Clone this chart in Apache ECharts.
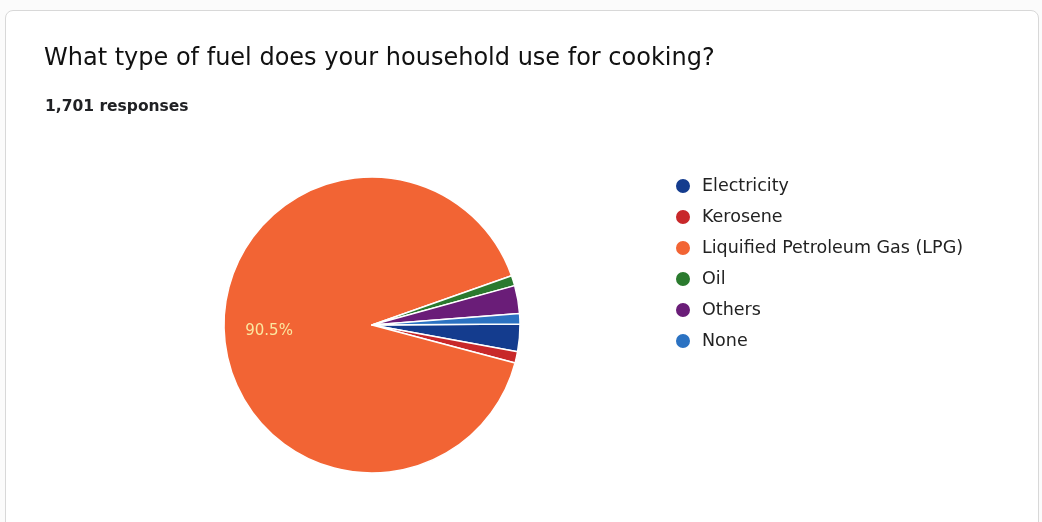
<!DOCTYPE html>
<html>
<head>
<meta charset="utf-8">
<script src="https://cdn.jsdelivr.net/npm/echarts@6/dist/echarts.min.js"></script>
<style>
  html, body { margin: 0; padding: 0; background: #fbfbfb; }
  #card {
    position: absolute; left: 5px; top: 10px; width: 1034px; height: 540px;
    background: #ffffff; border: 1px solid #d8d8d8; border-radius: 8px; box-sizing: border-box;
  }
  #chart { position: absolute; left: 0; top: 0; width: 1042px; height: 522px; }
</style>
</head>
<body>
<div id="card"></div>
<div id="chart"></div>
<script>
// Survey answers: fuel used for cooking
const categories = ['Electricity', 'Kerosene', 'Liquified Petroleum Gas (LPG)', 'Oil', 'Others', 'None'];
const responses = [51, 21, 1539, 19, 52, 19];
const colors = ['#143c8e', '#c8282a', '#f26434', '#2a7a2e', '#6a1d78', '#2b72c2'];
const totalResponses = 1701;

const chart = echarts.init(document.getElementById('chart'));

const pieData = categories.map((name, i) => ({
  name: name,
  value: responses[i],
  itemStyle: { color: colors[i] },
  label: { show: responses[i] / totalResponses > 0.05 }
}));

chart.setOption({
  animation: false,
  title: [
    {
      text: 'What type of fuel does your household use for cooking?',
      left: 44, top: 47, padding: 0,
      textStyle: { fontFamily: '"DejaVu Sans", sans-serif', fontSize: 24, fontWeight: 'normal', color: '#111111' }
    },
    {
      text: totalResponses.toLocaleString('en-US') + ' responses',
      left: 45, top: 99, padding: 0,
      textStyle: { fontFamily: '"DejaVu Sans", sans-serif', fontSize: 15.5, fontWeight: 'bold', color: '#202124' }
    }
  ],
  legend: {
    orient: 'vertical',
    left: 674, top: 177, padding: 0,
    icon: 'circle',
    itemWidth: 20, itemHeight: 16, itemGap: 13,
    textStyle: { fontFamily: '"DejaVu Sans", sans-serif', fontSize: 17.5, color: '#222222', lineHeight: 18, padding: [0, 0, 0, 4] },
    data: categories
  },
  series: [{
    type: 'pie',
    center: [372, 325],
    radius: 148,
    startAngle: 0.4,
    clockwise: true,
    avoidLabelOverlap: false,
    itemStyle: { borderColor: '#ffffff', borderWidth: 1.5 },
    label: {
      position: 'inside',
      offset: [-26, 3],
      formatter: p => p.percent.toFixed(1) + '%',
      color: '#fbe7a0',
      fontFamily: '"DejaVu Sans", sans-serif',
      fontSize: 15
    },
    labelLine: { show: false },
    emphasis: { disabled: true },
    data: pieData
  }]
});
</script>
</body>
</html>
